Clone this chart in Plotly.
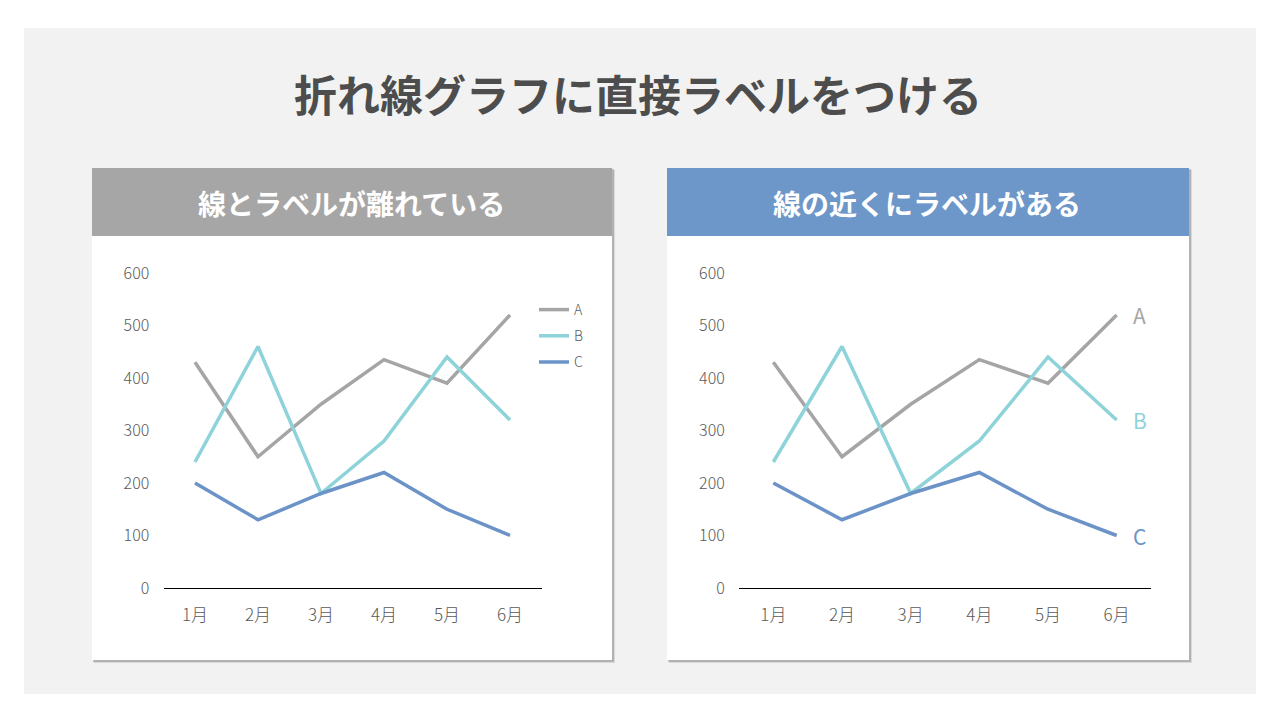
import plotly.graph_objects as go

months = ["1月", "2月", "3月", "4月", "5月", "6月"]
series_names = ["A", "B", "C"]
values_A = [430, 250, 350, 435, 390, 520]
values_B = [240, 460, 180, 280, 440, 320]
values_C = [200, 130, 180, 220, 150, 100]
y_ticks = [0, 100, 200, 300, 400, 500, 600]

title_text = "折れ線グラフに直接ラベルをつける"
left_header = "線とラベルが離れている"
right_header = "線の近くにラベルがある"

colors = {"A": "#a5a5a5", "B": "#8dd3d9", "C": "#6b93c8"}
data = {"A": values_A, "B": values_B, "C": values_C}

W, H = 1280, 720
FONT = "Noto Sans CJK JP"


def px(x):
    return x / W


def py(y):
    return 1 - y / H


fig = go.Figure()

for name in series_names:
    fig.add_trace(go.Scatter(
        x=months, y=data[name], mode="lines", name=name,
        line=dict(color=colors[name], width=3.5),
        xaxis="x", yaxis="y", legendgroup=name, showlegend=True,
    ))
for name in series_names:
    fig.add_trace(go.Scatter(
        x=months, y=data[name], mode="lines", name=name,
        line=dict(color=colors[name], width=3.5),
        xaxis="x2", yaxis="y2", showlegend=False,
    ))

shapes = []
# background panel
shapes.append(dict(type="rect", xref="paper", yref="paper", x0=px(24), x1=px(1256),
                   y0=py(694), y1=py(28), fillcolor="#f2f2f2", line=dict(width=0), layer="below"))
cards = [(92, 612, "#a6a6a6"), (667, 1189, "#6d96c9")]
for (x0, x1, hc) in cards:
    # shadow
    shapes.append(dict(type="rect", xref="paper", yref="paper", x0=px(x0 + 2), x1=px(x1 + 3),
                       y0=py(660 + 3), y1=py(168 + 2), fillcolor="rgba(0,0,0,0.10)",
                       line=dict(width=0), layer="below"))
    shapes.append(dict(type="rect", xref="paper", yref="paper", x0=px(x0 + 1), x1=px(x1 + 2),
                       y0=py(660 + 2), y1=py(168 + 1), fillcolor="rgba(0,0,0,0.18)",
                       line=dict(width=0), layer="below"))
    shapes.append(dict(type="rect", xref="paper", yref="paper", x0=px(x0), x1=px(x1),
                       y0=py(660), y1=py(168), fillcolor="white", line=dict(width=0), layer="below"))
    shapes.append(dict(type="rect", xref="paper", yref="paper", x0=px(x0), x1=px(x1),
                       y0=py(236), y1=py(168), fillcolor=hc, line=dict(width=0), layer="below"))

annotations = [
    dict(text=title_text, xref="paper", yref="paper", x=px(638), y=py(93), showarrow=False,
         xanchor="center", yanchor="middle",
         font=dict(family=FONT, size=43, color="#4d4d4d", weight="bold")),
    dict(text=left_header, xref="paper", yref="paper", x=px(351), y=py(203), showarrow=False,
         xanchor="center", yanchor="middle",
         font=dict(family=FONT, size=28, color="white", weight="bold")),
    dict(text=right_header, xref="paper", yref="paper", x=px(927), y=py(203), showarrow=False,
         xanchor="center", yanchor="middle",
         font=dict(family=FONT, size=28, color="white", weight="bold")),
]
for name in series_names:
    annotations.append(dict(text=name, xref="x2", yref="y2", x=months[-1], y=data[name][-1],
                            showarrow=False, xanchor="left", yanchor="middle", xshift=14,
                            font=dict(family=FONT, size=21, color=colors[name])))

tickfont = dict(family=FONT, size=16, color="#595959", weight=300)
xaxis_common = dict(type="category", range=[-0.5, 5.5], showgrid=False, zeroline=False,
                    showline=True, linecolor="black", linewidth=1,
                    ticks="outside", ticklen=12, tickcolor="rgba(0,0,0,0)",
                    tickfont=dict(family=FONT, size=17, color="#595959", weight=300), fixedrange=True)
yaxis_common = dict(range=[0, 600], tickvals=y_ticks, showgrid=False, zeroline=False,
                    showline=False, ticks="outside", ticklen=10, tickcolor="rgba(0,0,0,0)",
                    tickfont=tickfont, fixedrange=True)

fig.update_layout(
    width=W, height=H, autosize=False,
    margin=dict(l=0, r=0, t=0, b=0, pad=0, autoexpand=False),
    paper_bgcolor="white", plot_bgcolor="rgba(0,0,0,0)",
    xaxis=dict(domain=[px(163.5), px(541.5)], anchor="y", **xaxis_common),
    yaxis=dict(domain=[py(588), py(273)], anchor="x", **yaxis_common),
    xaxis2=dict(domain=[px(739), px(1151)], anchor="y2", **xaxis_common),
    yaxis2=dict(domain=[py(588), py(273)], anchor="x2", **yaxis_common),
    shapes=shapes,
    annotations=annotations,
    showlegend=True,
    legend=dict(x=px(534), y=py(294), xanchor="left", yanchor="top",
                bgcolor="rgba(0,0,0,0)", tracegroupgap=5, itemwidth=30,
                font=dict(family=FONT, size=14, color="#595959", weight=300)),
    font=dict(family=FONT),
)

fig.write_html(
    "out.html",
    config={"responsive": False, "displayModeBar": False},
    post_script="document.body.style.margin='0';document.body.style.padding='0';"
                "document.body.style.overflow='hidden';",
)
